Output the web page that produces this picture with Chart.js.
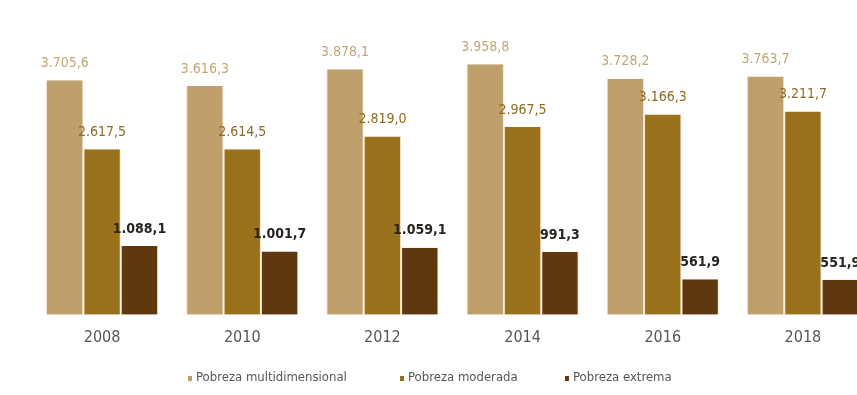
<!DOCTYPE html>
<html>
<head>
<meta charset="utf-8">
<script src="https://cdn.jsdelivr.net/npm/chart.js@4"></script>
<style>
  html, body { margin: 0; padding: 0; background: #fff; overflow: hidden; }
  #wrap { width: 880px; height: 395px; position: relative; }
</style>
</head>
<body>
<div id="wrap"><canvas id="chart"></canvas></div>
<script>
const years = ['2008', '2010', '2012', '2014', '2016', '2018'];
const multidimensional = [3705.6, 3616.3, 3878.1, 3958.8, 3728.2, 3763.7];
const moderada = [2617.5, 2614.5, 2819.0, 2967.5, 3166.3, 3211.7];
const extrema = [1088.1, 1001.7, 1059.1, 991.3, 561.9, 551.9];
const seriesNames = ['Pobreza multidimensional', 'Pobreza moderada', 'Pobreza extrema'];

const FONT = '"Liberation Sans Narrow", "DejaVu Sans Condensed", "Roboto", sans-serif';
const barColors = ['#bf9f6c', '#9a711c', '#5f3810'];
const labelColors = ['#c2a575', '#8f6a22', '#2a2420'];

// formats 3705.6 -> "3.705,6"
const fmt = v => {
    const parts = v.toFixed(1).split('.');
    return parts[0].replace(/\B(?=(\d{3})+(?!\d))/g, '.') + ',' + parts[1];
};

const valueLabels = {
    id: 'valueLabels',
    afterDatasetsDraw(chart) {
        const ctx = chart.ctx;
        ctx.save();
        ctx.textAlign = 'center';
        ctx.textBaseline = 'middle';
        chart.data.datasets.forEach((ds, i) => {
            const meta = chart.getDatasetMeta(i);
            ctx.fillStyle = labelColors[i];
            ctx.font = (i === 2 ? 'bold ' : '') + '14px ' + FONT;
            meta.data.forEach((bar, j) => {
                ctx.fillText(fmt(ds.data[j]), bar.x, bar.y - 17);
            });
        });
        ctx.restore();
    }
};

// small legend under the axis, drawn by hand to keep the spacing of the original
const bottomLegend = {
    id: 'bottomLegend',
    afterDraw(chart) {
        const ctx = chart.ctx;
        const xs = [188, 400, 565];
        const y = 378;
        ctx.save();
        ctx.font = '13px ' + FONT;
        ctx.textBaseline = 'middle';
        ctx.textAlign = 'left';
        seriesNames.forEach((name, i) => {
            ctx.fillStyle = barColors[i];
            ctx.fillRect(xs[i], y - 2, 4, 5);
            ctx.fillStyle = '#555';
            ctx.fillText(name, xs[i] + 8, y);
        });
        ctx.restore();
    }
};

const datasets = [multidimensional, moderada, extrema].map((data, i) => ({
    label: seriesNames[i],
    data: data,
    backgroundColor: barColors[i],
    borderColor: '#f4e8c6',
    borderWidth: { left: 1, right: 1, top: 0, bottom: 0 },
    borderSkipped: false,
    categoryPercentage: 0.8,
    barPercentage: 1
}));

new Chart(document.getElementById('chart'), {
    type: 'bar',
    data: { labels: years, datasets: datasets },
    options: {
        responsive: true,
        maintainAspectRatio: false,
        animation: false,
        layout: { padding: { left: 32, right: 7, top: 30, bottom: 35 } },
        scales: {
            x: {
                grid: { display: false, drawTicks: false },
                border: { display: false },
                ticks: { color: '#555', font: { family: FONT, size: 16 }, padding: 13 }
            },
            y: {
                display: false,
                min: 0,
                max: 4500
            }
        },
        plugins: {
            legend: { display: false },
            tooltip: { enabled: false }
        }
    },
    plugins: [valueLabels, bottomLegend]
});
</script>
</body>
</html>
